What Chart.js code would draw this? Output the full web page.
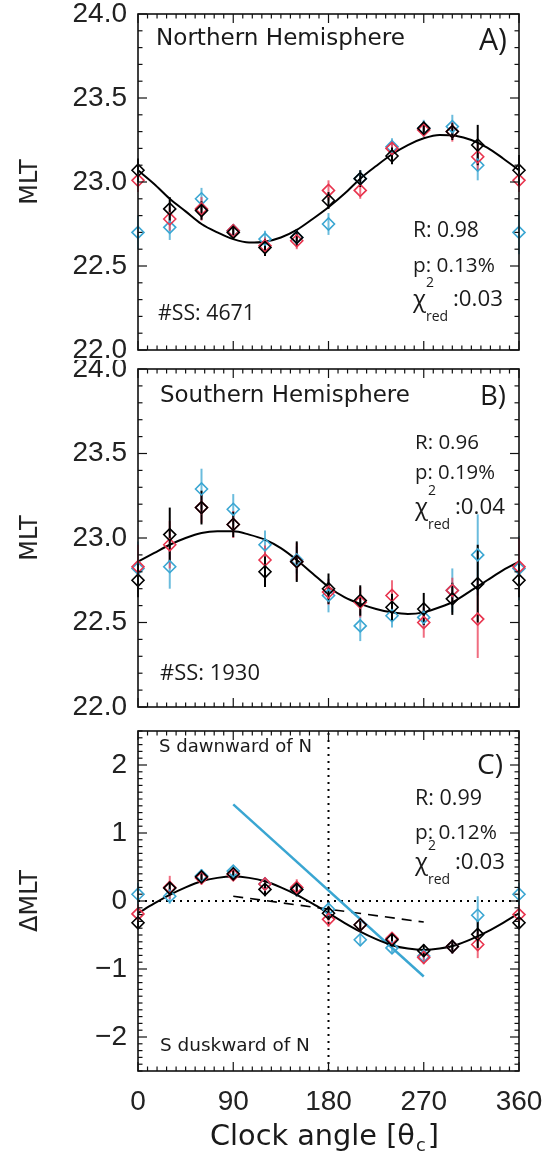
<!DOCTYPE html>
<html><head><meta charset="utf-8">
<script src="https://cdn.jsdelivr.net/npm/chart.js@4.4.1/dist/chart.umd.min.js"></script>
<style>
html,body{margin:0;padding:0;background:#fff;}
#wrap{position:relative;width:549px;height:1158px;overflow:hidden;}
canvas{position:absolute;left:0;}
</style></head><body>
<div id="wrap">
<canvas id="cA" width="549" height="360" style="top:0px"></canvas>
<canvas id="cB" width="549" height="360" style="top:360px"></canvas>
<canvas id="cC" width="549" height="438" style="top:720px"></canvas>
</div>
<script>
// ---------- data ----------
const angles = [0,30,60,90,120,150,180,210,240,270,297,321,360];
const fitAngles = [0,15,30,45,60,75,90,105,120,135,150,165,180,195,210,225,240,255,270,285,300,315,330,345,360];
const mltTicks = [22.0,22.5,23.0,23.5,24.0];
const dmltTicks = [-2,-1,0,1,2];
const angleTicks = [0,90,180,270,360];

const northBlack    = [23.07,22.84,22.83,22.70,22.61,22.67,22.89,23.02,23.155,23.32,23.30,23.22,23.07];
const northBlackErr = [0.07,0.07,0.055,0.04,0.05,0.05,0.05,0.05,0.05,0.04,0.05,0.12,0.09];
const northRed      = [23.01,22.78,22.84,22.71,22.62,22.65,22.95,22.95,23.20,23.31,23.30,23.15,23.01];
const northRedErr   = [0.07,0.07,0.07,0.04,0.05,0.05,0.06,0.05,0.05,0.04,0.06,0.08,0.07];
const northBlue     = [22.70,22.73,22.90,22.71,22.66,22.67,22.75,23.02,23.21,23.32,23.33,23.10,22.70];
const northBlueErr  = [0.10,0.075,0.065,0.04,0.05,0.05,0.065,0.05,0.05,0.05,0.07,0.09,0.13];
const northFit = [23.07,22.99,22.90,22.825,22.75,22.70,22.66,22.64,22.645,22.67,22.715,22.78,22.85,22.93,23.02,23.095,23.165,23.22,23.26,23.28,23.275,23.25,23.205,23.14,23.07];

const southBlack    = [22.75,23.02,23.18,23.08,22.80,22.86,22.70,22.63,22.59,22.58,22.64,22.73,22.75];
const southBlackErr = [0.10,0.16,0.10,0.075,0.09,0.12,0.09,0.09,0.08,0.095,0.095,0.23,0.10];
const southRed      = [22.83,22.96,23.18,23.08,22.87,22.86,22.68,22.62,22.66,22.50,22.69,22.52,22.83];
const southRedErr   = [0.13,0.14,0.09,0.08,0.085,0.11,0.075,0.09,0.09,0.09,0.075,0.23,0.17];
const southBlue     = [22.82,22.83,23.29,23.17,22.96,22.87,22.66,22.48,22.54,22.53,22.69,22.90,22.82];
const southBlueErr  = [0.16,0.13,0.12,0.09,0.085,0.08,0.10,0.09,0.07,0.06,0.13,0.24,0.19];
const southFit = [22.86,22.91,22.96,23.00,23.03,23.04,23.04,23.02,22.99,22.94,22.87,22.79,22.71,22.65,22.61,22.58,22.56,22.55,22.56,22.59,22.63,22.69,22.75,22.81,22.86];

const deltaBlack    = [-0.32,0.19,0.355,0.40,0.17,0.17,-0.18,-0.35,-0.57,-0.73,-0.67,-0.49,-0.32];
const deltaBlackErr = [0.09,0.10,0.09,0.08,0.10,0.10,0.10,0.08,0.07,0.09,0.10,0.20,0.09];
const deltaRed      = [-0.19,0.20,0.34,0.385,0.25,0.20,-0.27,-0.35,-0.55,-0.83,-0.67,-0.64,-0.20];
const deltaRedErr   = [0.14,0.17,0.10,0.08,0.10,0.12,0.11,0.11,0.07,0.10,0.10,0.20,0.14];
const deltaBlue     = [0.10,0.07,0.37,0.44,0.25,0.17,-0.12,-0.57,-0.69,-0.81,-0.67,-0.21,0.10];
const deltaBlueErr  = [0.17,0.11,0.10,0.08,0.10,0.10,0.11,0.09,0.07,0.08,0.10,0.28,0.17];
const deltaFit = [-0.18,-0.04,0.09,0.20,0.29,0.34,0.36,0.34,0.29,0.20,0.09,-0.04,-0.18,-0.32,-0.45,-0.56,-0.65,-0.70,-0.72,-0.70,-0.65,-0.56,-0.45,-0.32,-0.18];

const blueLineX = [90,270];   const blueLineY = [1.42,-1.11];
const dashLineX = [90,270];   const dashLineY = [0.07,-0.31];
const zeroLineX = [0,360];    const zeroLineY = [0,0];
const midLineX  = [180,180];  const midLineY  = [-2.5,2.5];

// ---------- styles ----------
const BLACK='#000000', RED='#e8344e', BLUE='#3aa6d2';
const RED_BAR='rgba(235,60,85,0.75)', BLUE_BAR='rgba(58,166,210,0.75)';
const TICK_FONT = "'Liberation Sans', Arial, sans-serif";
const TEXT_FONT = "'DejaVu Sans', sans-serif";
const STAT_FONT = "'Open Sans', 'Liberation Sans', sans-serif";

const pts = (xs, ys) => xs.map((x,i)=>({x:x, y:ys[i]}));

function markerSet(label, xs, ys, errs, color, barColor){
  return {label, data:pts(xs,ys), errors:errs, barColor, showLine:false,
    pointStyle:'rectRot', pointRadius:6, pointHoverRadius:6, pointBorderWidth:1.6,
    borderColor:color, backgroundColor:'rgba(0,0,0,0)', pointBackgroundColor:'rgba(0,0,0,0)', clip:false};
}
function lineSet(label, xs, ys, color, width, dash, smooth){
  return {label, data:pts(xs,ys), showLine:true, pointRadius:0, pointHoverRadius:0,
    borderColor:color, borderWidth:width, borderDash:dash||[], borderCapStyle:'butt',
    cubicInterpolationMode: smooth ? 'monotone' : 'default', tension:0, fill:false, clip:false};
}

// ---------- plugins ----------
const errPlugin = {
  id:'errbars',
  beforeDatasetsDraw(chart){
    const ctx=chart.ctx, y=chart.scales.y;
    const ds=chart.data.datasets;
    ctx.save();
    for(let d=ds.length-1; d>=0; d--){
      const set=ds[d]; if(!set.errors) continue;
      const meta=chart.getDatasetMeta(d);
      ctx.strokeStyle=set.barColor; ctx.lineWidth=2;
      meta.data.forEach((pt,i)=>{
        const v=set.data[i].y, e=set.errors[i];
        ctx.beginPath();
        ctx.moveTo(pt.x, y.getPixelForValue(v-e));
        ctx.lineTo(pt.x, y.getPixelForValue(v+e));
        ctx.stroke();
      });
    }
    ctx.restore();
  }
};

const framePlugin = {
  id:'frame',
  afterDatasetsDraw(chart, args, o){
    const {ctx, chartArea:a} = chart; const x=chart.scales.x, y=chart.scales.y;
    ctx.save();
    ctx.strokeStyle='#111'; ctx.lineWidth=1.6;
    ctx.strokeRect(a.left, a.top, a.right-a.left, a.bottom-a.top);
    ctx.lineWidth=1.2;
    const seg=(x1,y1,x2,y2)=>{ctx.beginPath();ctx.moveTo(x1,y1);ctx.lineTo(x2,y2);ctx.stroke();};
    const near=(v,arr)=>arr.some(m=>Math.abs(m-v)<1e-6);
    const n1=Math.round((o.xMax-o.xMin)/o.xStep);
    for(let i=0;i<=n1;i++){
      const v=o.xMin+i*o.xStep, len=near(v,o.xMajor)?9:4.5, p=x.getPixelForValue(v);
      seg(p,a.bottom,p,a.bottom-len); seg(p,a.top,p,a.top+len);
    }
    const n2=Math.round((o.yMax-o.yMin)/o.yStep);
    for(let i=0;i<=n2;i++){
      const v=+(o.yMin+i*o.yStep).toFixed(4), len=near(v,o.yMajor)?9:4.5, p=y.getPixelForValue(v);
      seg(a.left,p,a.left+len,p); seg(a.right,p,a.right-len,p);
    }
    ctx.restore();
  }
};

function fitText(ctx, text, family, targetW, base){
  ctx.font = base+'px '+family;
  const w = ctx.measureText(text).width;
  return base*targetW/w;
}
function drawText(ctx, t){
  const size = t.w ? fitText(ctx, t.t, t.f, t.w, t.s||22) : t.s;
  ctx.font = size+'px '+t.f;
  ctx.fillStyle='#1a1a1a'; ctx.textBaseline='middle'; ctx.textAlign='left';
  ctx.fillText(t.t, t.x, t.y);
}
function drawChi(ctx, x, y, val){
  ctx.fillStyle='#1a1a1a'; ctx.textBaseline='middle'; ctx.textAlign='left';
  ctx.font="24px "+STAT_FONT; ctx.fillText('χ', x, y);
  ctx.font="14px "+STAT_FONT; ctx.fillText('2', x+13, y-17);
  ctx.font="14px "+STAT_FONT; ctx.fillText('red', x+13, y+17);
  const s=fitText(ctx, ':'+val, STAT_FONT, 50, 22);
  ctx.font=s+"px "+STAT_FONT; ctx.fillText(':'+val, x+40, y);
}
const textPlugin = {
  id:'texts',
  afterDraw(chart, args, o){
    const ctx=chart.ctx; ctx.save();
    (o.items||[]).forEach(t=>drawText(ctx,t));
    if(o.chi) drawChi(ctx, o.chi.x, o.chi.y, o.chi.v);
    if(o.xtitle){
      const xt=o.xtitle;
      ctx.fillStyle='#1a1a1a'; ctx.textBaseline='middle'; ctx.textAlign='left';
      const main='Clock angle [θ';
      const s=fitText(ctx, main, TEXT_FONT, 205, 26);
      ctx.font=s+'px '+TEXT_FONT;
      const w1=ctx.measureText(main).width;
      let x0=xt.x;
      ctx.fillText(main, x0, xt.y);
      ctx.font=(s*0.62)+'px '+TEXT_FONT;
      ctx.fillText('c', x0+w1+1, xt.y+8);
      const w2=ctx.measureText('c').width;
      ctx.font=s+'px '+TEXT_FONT;
      ctx.fillText(']', x0+w1+w2+3, xt.y);
    }
    ctx.restore();
  }
};

function makeChart(id, datasets, cfg){
  const yTicks=cfg.yTicks;
  return new Chart(document.getElementById(id), {
    type:'scatter',
    data:{datasets},
    options:{
      responsive:false, animation:false, devicePixelRatio:1,
      layout:{padding:{top:cfg.top, right:30, left:0, bottom:cfg.padBottom}},
      plugins:{legend:{display:false}, tooltip:{enabled:false},
        frame:cfg.frame, texts:cfg.texts},
      scales:{
        x:{type:'linear', min:0, max:360, display:cfg.showX,
          grid:{display:false, drawTicks:false}, border:{display:false},
          afterBuildTicks:s=>{s.ticks=angleTicks.map(v=>({value:v}));},
          afterFit:s=>{ if(cfg.showX) s.height=cfg.xHeight; s.paddingLeft=0; s.paddingRight=0; s.paddingTop=0; s.paddingBottom=0; },
          ticks:{font:{family:TICK_FONT,size:28}, color:'#222', padding:14, maxRotation:0, autoSkip:false}},
        y:{type:'linear', min:cfg.yMin, max:cfg.yMax,
          grid:{display:false, drawTicks:false}, border:{display:false},
          afterBuildTicks:s=>{s.ticks=yTicks.map(v=>({value:v}));},
          afterFit:s=>{s.width=138; s.paddingTop=0; s.paddingBottom=0; s.paddingLeft=0; s.paddingRight=0;},
          title:{display:true, text:cfg.yTitle, font:{family:TEXT_FONT,size:24}, color:'#222', padding:{top:16,bottom:0}},
          ticks:{font:{family:TICK_FONT,size:28}, color:'#222', padding:11, autoSkip:false,
            callback:cfg.fmt}}
      }
    },
    plugins:[errPlugin, framePlugin, textPlugin]
  });
}

const fmtMLT = v => Number(v).toFixed(1);
const fmtD = v => v<0 ? '\u2212'+Math.abs(v) : String(v);

// Panel A
makeChart('cA', [
  markerSet('N black', angles, northBlack, northBlackErr, BLACK, BLACK),
  markerSet('N red', angles, northRed, northRedErr, RED, RED_BAR),
  markerSet('N blue', angles, northBlue, northBlueErr, BLUE, BLUE_BAR),
  lineSet('N fit', fitAngles, northFit, BLACK, 2, null, true)
], {top:14, padBottom:10, showX:false, yMin:22, yMax:24, yTicks:mltTicks, yTitle:'MLT', fmt:fmtMLT,
  frame:{xMin:0,xMax:360,xStep:9,xMajor:angleTicks,yMin:22,yMax:24,yStep:0.1,yMajor:mltTicks},
  texts:{items:[
    {t:'Northern Hemisphere', x:156, y:39, w:249, f:TEXT_FONT},
    {t:'A)', x:479, y:41, w:28, f:STAT_FONT, s:26},
    {t:'R: 0.98', x:413, y:231, w:66, f:STAT_FONT},
    {t:'p: 0.13%', x:413, y:266, w:82, f:STAT_FONT},
    {t:'#SS: 4671', x:158, y:314, w:97, f:STAT_FONT}
  ], chi:{x:413, y:300, v:'0.03'}}
});

// Panel B
makeChart('cB', [
  markerSet('S black', angles, southBlack, southBlackErr, BLACK, BLACK),
  markerSet('S red', angles, southRed, southRedErr, RED, RED_BAR),
  markerSet('S blue', angles, southBlue, southBlueErr, BLUE, BLUE_BAR),
  lineSet('S fit', fitAngles, southFit, BLACK, 2, null, true)
], {top:9, padBottom:13, showX:false, yMin:22, yMax:24, yTicks:mltTicks, yTitle:'MLT', fmt:fmtMLT,
  frame:{xMin:0,xMax:360,xStep:9,xMajor:angleTicks,yMin:22,yMax:24,yStep:0.1,yMajor:mltTicks},
  texts:{items:[
    {t:'Southern Hemisphere', x:160, y:36, w:250, f:TEXT_FONT},
    {t:'B)', x:480, y:37, w:26, f:STAT_FONT, s:26},
    {t:'R: 0.96', x:415, y:83, w:64, f:STAT_FONT},
    {t:'p: 0.19%', x:415, y:113, w:80, f:STAT_FONT},
    {t:'#SS: 1930', x:160, y:314, w:100, f:STAT_FONT}
  ], chi:{x:415, y:148, v:'0.04'}}
});

// Panel C
makeChart('cC', [
  markerSet('D black', angles, deltaBlack, deltaBlackErr, BLACK, BLACK),
  markerSet('D red', angles, deltaRed, deltaRedErr, RED, RED_BAR),
  markerSet('D blue', angles, deltaBlue, deltaBlueErr, BLUE, BLUE_BAR),
  lineSet('D fit', fitAngles, deltaFit, BLACK, 2, null, true),
  lineSet('blue line', blueLineX, blueLineY, BLUE, 2.5, null, false),
  lineSet('dashed', dashLineX, dashLineY, BLACK, 1.6, [10,7], false),
  lineSet('zero', zeroLineX, zeroLineY, BLACK, 2, [2,5], false),
  lineSet('mid', midLineX, midLineY, BLACK, 2, [2,5], false)
], {top:11, padBottom:0, showX:true, xHeight:87, yMin:-2.5, yMax:2.5, yTicks:dmltTicks, yTitle:'ΔMLT', fmt:fmtD,
  frame:{xMin:0,xMax:360,xStep:9,xMajor:angleTicks,yMin:-2.5,yMax:2.5,yStep:0.1,yMajor:dmltTicks},
  texts:{items:[
    {t:'S dawnward of N', x:159, y:27, w:153, f:TEXT_FONT},
    {t:'S duskward of N', x:160, y:326, w:150, f:TEXT_FONT},
    {t:'C)', x:477, y:46, w:26, f:STAT_FONT, s:26},
    {t:'R: 0.99', x:415, y:79, w:67, f:STAT_FONT},
    {t:'p: 0.12%', x:415, y:113, w:82, f:STAT_FONT}
  ], chi:{x:415, y:143, v:'0.03'}, xtitle:{x:210, y:418}}
});
</script>
</body></html>
